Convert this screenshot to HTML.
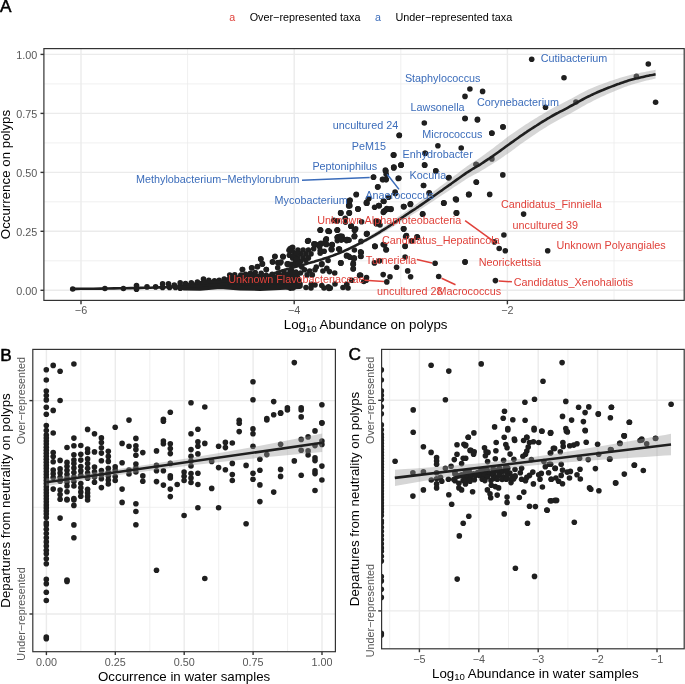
<!DOCTYPE html><html><head><meta charset="utf-8"><style>html,body{margin:0;padding:0;background:#fff;width:685px;height:684px;overflow:hidden}svg{display:block;will-change:transform}text{font-family:"Liberation Sans",sans-serif}</style></head><body>
<svg width="685" height="684" viewBox="0 0 685 684">
<rect width="685" height="684" fill="#fff"/>
<clipPath id="cA"><rect x="43.9" y="48.6" width="640.3" height="251.8"/></clipPath><g clip-path="url(#cA)"><line x1="187.6" y1="48.6" x2="187.6" y2="300.4" stroke="#EBEBEB" stroke-width="0.75"/><line x1="400.8" y1="48.6" x2="400.8" y2="300.4" stroke="#EBEBEB" stroke-width="0.75"/><line x1="614" y1="48.6" x2="614" y2="300.4" stroke="#EBEBEB" stroke-width="0.75"/><line x1="43.9" y1="260.8" x2="684.2" y2="260.8" stroke="#EBEBEB" stroke-width="0.75"/><line x1="43.9" y1="201.8" x2="684.2" y2="201.8" stroke="#EBEBEB" stroke-width="0.75"/><line x1="43.9" y1="142.9" x2="684.2" y2="142.9" stroke="#EBEBEB" stroke-width="0.75"/><line x1="43.9" y1="83.9" x2="684.2" y2="83.9" stroke="#EBEBEB" stroke-width="0.75"/><line x1="81" y1="48.6" x2="81" y2="300.4" stroke="#EBEBEB" stroke-width="1.4"/><line x1="294.2" y1="48.6" x2="294.2" y2="300.4" stroke="#EBEBEB" stroke-width="1.4"/><line x1="507.4" y1="48.6" x2="507.4" y2="300.4" stroke="#EBEBEB" stroke-width="1.4"/><line x1="43.9" y1="290.3" x2="684.2" y2="290.3" stroke="#EBEBEB" stroke-width="1.4"/><line x1="43.9" y1="231.3" x2="684.2" y2="231.3" stroke="#EBEBEB" stroke-width="1.4"/><line x1="43.9" y1="172.4" x2="684.2" y2="172.4" stroke="#EBEBEB" stroke-width="1.4"/><line x1="43.9" y1="113.4" x2="684.2" y2="113.4" stroke="#EBEBEB" stroke-width="1.4"/><line x1="43.9" y1="54.4" x2="684.2" y2="54.4" stroke="#EBEBEB" stroke-width="1.4"/></g>
<g clip-path="url(#cA)">
<g fill="#1F1F1F">
<circle cx="72.7" cy="289" r="2.8"/><circle cx="104.9" cy="288.5" r="2.8"/><circle cx="123.4" cy="288.5" r="2.8"/><circle cx="136.5" cy="285.5" r="2.8"/><circle cx="136.5" cy="289.2" r="2.8"/><circle cx="147" cy="286.9" r="2.8"/><circle cx="155.6" cy="286.9" r="2.8"/><circle cx="162.6" cy="283.9" r="2.8"/><circle cx="162.6" cy="287.4" r="2.8"/><circle cx="168.5" cy="283.9" r="2.8"/><circle cx="169.6" cy="287.4" r="2.8"/><circle cx="174.3" cy="285" r="2.8"/><circle cx="175.5" cy="287.4" r="2.8"/><circle cx="180.2" cy="282.7" r="2.8"/><circle cx="180.2" cy="285.6" r="2.8"/><circle cx="180.2" cy="288.3" r="2.8"/><circle cx="242.6" cy="269.6" r="2.8"/><circle cx="251.6" cy="267.7" r="2.8"/><circle cx="257.3" cy="266.8" r="2.8"/><circle cx="260.9" cy="259.2" r="2.8"/><circle cx="262.5" cy="263.9" r="2.8"/><circle cx="266.3" cy="269.6" r="2.8"/><circle cx="274.8" cy="256.8" r="2.8"/><circle cx="272.9" cy="262" r="2.8"/><circle cx="278.1" cy="262.5" r="2.8"/><circle cx="282.9" cy="256.3" r="2.8"/><circle cx="281" cy="262" r="2.8"/><circle cx="287.6" cy="264.4" r="2.8"/><circle cx="289" cy="250.2" r="2.8"/><circle cx="277.7" cy="267.7" r="2.8"/><circle cx="348.9" cy="204.4" r="2.8"/><circle cx="348.9" cy="201" r="2.8"/><circle cx="366.5" cy="202.2" r="2.8"/><circle cx="358.2" cy="209.1" r="2.8"/><circle cx="340.6" cy="212.9" r="2.8"/><circle cx="349.4" cy="212.9" r="2.8"/><circle cx="351.1" cy="226.3" r="2.8"/><circle cx="354.8" cy="230" r="2.8"/><circle cx="320.4" cy="230.3" r="2.8"/><circle cx="328.2" cy="231.1" r="2.8"/><circle cx="337.3" cy="230.3" r="2.8"/><circle cx="338.7" cy="236.5" r="2.8"/><circle cx="341.6" cy="238.7" r="2.8"/><circle cx="347.5" cy="239.8" r="2.8"/><circle cx="354.5" cy="235.8" r="2.8"/><circle cx="366.5" cy="233.9" r="2.8"/><circle cx="307.7" cy="241.2" r="2.8"/><circle cx="326.3" cy="239.5" r="2.8"/><circle cx="320.4" cy="243.9" r="2.8"/><circle cx="332.1" cy="244.6" r="2.8"/><circle cx="331.4" cy="249.7" r="2.8"/><circle cx="313.9" cy="243.9" r="2.8"/><circle cx="338.7" cy="249" r="2.8"/><circle cx="360.6" cy="251.9" r="2.8"/><circle cx="360.6" cy="256.3" r="2.8"/><circle cx="354.1" cy="257.7" r="2.8"/><circle cx="348.9" cy="256.3" r="2.8"/><circle cx="340.9" cy="262.9" r="2.8"/><circle cx="353.3" cy="264.3" r="2.8"/><circle cx="353.3" cy="268.7" r="2.8"/><circle cx="360.6" cy="275.3" r="2.8"/><circle cx="366.5" cy="277.5" r="2.8"/><circle cx="340.4" cy="236.3" r="2.8"/><circle cx="337.3" cy="237.3" r="2.8"/><circle cx="343.5" cy="239.3" r="2.8"/><circle cx="347.6" cy="239.8" r="2.8"/><circle cx="326.6" cy="244.4" r="2.8"/><circle cx="332.2" cy="245" r="2.8"/><circle cx="331.2" cy="249.1" r="2.8"/><circle cx="339.4" cy="249.1" r="2.8"/><circle cx="320.7" cy="243.9" r="2.8"/><circle cx="320.9" cy="251.1" r="2.8"/><circle cx="314.8" cy="243.9" r="2.8"/><circle cx="340.9" cy="262.9" r="2.8"/><circle cx="322" cy="263.9" r="2.8"/><circle cx="288.2" cy="263.9" r="2.8"/><circle cx="283.1" cy="256.7" r="2.8"/><circle cx="353.3" cy="258.5" r="2.8"/><circle cx="353.3" cy="263.1" r="2.8"/><circle cx="359.9" cy="275" r="2.8"/><circle cx="361.2" cy="252.6" r="2.8"/><circle cx="346.8" cy="255.3" r="2.8"/><circle cx="363.8" cy="281.5" r="2.8"/><circle cx="328.4" cy="286.8" r="2.8"/><circle cx="330.3" cy="288.1" r="2.8"/><circle cx="321.8" cy="285.5" r="2.8"/><circle cx="311.3" cy="284.2" r="2.8"/><circle cx="290.3" cy="288.1" r="2.8"/><circle cx="292.9" cy="287.5" r="2.8"/><circle cx="346.8" cy="284.2" r="2.8"/><circle cx="378.8" cy="205.6" r="2.8"/><circle cx="383.9" cy="201.5" r="2.8"/><circle cx="383.9" cy="211.4" r="2.8"/><circle cx="387.5" cy="209.1" r="2.8"/><circle cx="390.8" cy="209.5" r="2.8"/><circle cx="403.9" cy="206.6" r="2.8"/><circle cx="410.6" cy="204.1" r="2.8"/><circle cx="422.6" cy="214.2" r="2.8"/><circle cx="443.8" cy="202.9" r="2.8"/><circle cx="456.3" cy="200" r="2.8"/><circle cx="456.7" cy="212.9" r="2.8"/><circle cx="376.6" cy="223.4" r="2.8"/><circle cx="376" cy="221" r="2.8"/><circle cx="380" cy="225" r="2.8"/><circle cx="403.6" cy="228.8" r="2.8"/><circle cx="406.3" cy="235.8" r="2.8"/><circle cx="417.2" cy="237.3" r="2.8"/><circle cx="411.7" cy="240.9" r="2.8"/><circle cx="405.1" cy="246.5" r="2.8"/><circle cx="375.1" cy="246.5" r="2.8"/><circle cx="383.2" cy="244.6" r="2.8"/><circle cx="386.4" cy="249.7" r="2.8"/><circle cx="405.1" cy="257" r="2.8"/><circle cx="374.4" cy="262.9" r="2.8"/><circle cx="379.5" cy="260.7" r="2.8"/><circle cx="396.6" cy="267.3" r="2.8"/><circle cx="407.7" cy="270.9" r="2.8"/><circle cx="383.2" cy="274.6" r="2.8"/><circle cx="390" cy="276.8" r="2.8"/><circle cx="410.6" cy="276.8" r="2.8"/><circle cx="386.8" cy="281.9" r="2.8"/><circle cx="435.1" cy="263.2" r="2.8"/><circle cx="465" cy="262.1" r="2.8"/><circle cx="438.7" cy="276.5" r="2.8"/><circle cx="469.1" cy="194.4" r="2.8"/><circle cx="489.7" cy="194.4" r="2.8"/><circle cx="523.6" cy="214.1" r="2.8"/><circle cx="503.9" cy="235" r="2.8"/><circle cx="494.4" cy="241.9" r="2.8"/><circle cx="499.2" cy="248.5" r="2.8"/><circle cx="505.3" cy="250.7" r="2.8"/><circle cx="547.7" cy="250.7" r="2.8"/><circle cx="465.1" cy="261.9" r="2.8"/><circle cx="495.4" cy="280.6" r="2.8"/><circle cx="545.5" cy="107.3" r="2.8"/><circle cx="465.1" cy="118.3" r="2.8"/><circle cx="477.5" cy="119.4" r="2.8"/><circle cx="503.1" cy="127" r="2.8"/><circle cx="491.9" cy="133.3" r="2.8"/><circle cx="461.2" cy="148" r="2.8"/><circle cx="476.1" cy="164.3" r="2.8"/><circle cx="491.9" cy="158.9" r="2.8"/><circle cx="502.8" cy="174.9" r="2.8"/><circle cx="476.4" cy="182.2" r="2.8"/><circle cx="531.7" cy="59.2" r="2.8"/><circle cx="469.9" cy="89" r="2.8"/><circle cx="482.6" cy="91.4" r="2.8"/><circle cx="465" cy="96.4" r="2.8"/><circle cx="465" cy="118.7" r="2.8"/><circle cx="477.4" cy="120" r="2.8"/><circle cx="424.3" cy="123" r="2.8"/><circle cx="502.9" cy="126.9" r="2.8"/><circle cx="491.8" cy="133.1" r="2.8"/><circle cx="399.2" cy="135.4" r="2.8"/><circle cx="564" cy="77.7" r="2.8"/><circle cx="648.3" cy="64" r="2.8"/><circle cx="636.4" cy="76.3" r="2.8"/><circle cx="575.9" cy="102" r="2.8"/><circle cx="655.6" cy="102.2" r="2.8"/><circle cx="393.8" cy="154.7" r="2.8"/><circle cx="425.3" cy="153.2" r="2.8"/><circle cx="393.8" cy="167.9" r="2.8"/><circle cx="400.9" cy="165.2" r="2.8"/><circle cx="424.8" cy="165.2" r="2.8"/><circle cx="385.9" cy="171" r="2.8"/><circle cx="435.8" cy="171" r="2.8"/><circle cx="449" cy="177.6" r="2.8"/><circle cx="373.6" cy="177.1" r="2.8"/><circle cx="382.5" cy="179.4" r="2.8"/><circle cx="385.9" cy="179.4" r="2.8"/><circle cx="398.2" cy="178.4" r="2.8"/><circle cx="378" cy="186.8" r="2.8"/><circle cx="423.5" cy="185.5" r="2.8"/><circle cx="429.3" cy="193.4" r="2.8"/><circle cx="455.5" cy="199.1" r="2.8"/><circle cx="468.7" cy="194.7" r="2.8"/><circle cx="443.7" cy="203.3" r="2.8"/><circle cx="456.3" cy="213.1" r="2.8"/><circle cx="422.7" cy="213.8" r="2.8"/><circle cx="410.3" cy="204.4" r="2.8"/><circle cx="403.5" cy="206.5" r="2.8"/><circle cx="395.1" cy="192" r="2.8"/><circle cx="388.5" cy="197.3" r="2.8"/><circle cx="383.3" cy="201.2" r="2.8"/><circle cx="379.3" cy="205.7" r="2.8"/><circle cx="385.1" cy="210.4" r="2.8"/><circle cx="389.8" cy="209.1" r="2.8"/><circle cx="383.3" cy="212.5" r="2.8"/><circle cx="368.8" cy="198.6" r="2.8"/><circle cx="367" cy="203.3" r="2.8"/><circle cx="356.2" cy="194.7" r="2.8"/><circle cx="349.9" cy="200.4" r="2.8"/><circle cx="349.9" cy="205.7" r="2.8"/><circle cx="357.8" cy="209.1" r="2.8"/><circle cx="349.1" cy="213.1" r="2.8"/><circle cx="340.7" cy="213.1" r="2.8"/><circle cx="374.6" cy="207.3" r="2.8"/><circle cx="403.5" cy="228.8" r="2.8"/><circle cx="405.6" cy="236.7" r="2.8"/><circle cx="417.4" cy="237.2" r="2.8"/><circle cx="405.1" cy="245.9" r="2.8"/><circle cx="384.6" cy="245.1" r="2.8"/><circle cx="385.9" cy="249.8" r="2.8"/><circle cx="374.9" cy="246.4" r="2.8"/><circle cx="366.7" cy="234.1" r="2.8"/><circle cx="354.4" cy="236.7" r="2.8"/><circle cx="355.7" cy="228.8" r="2.8"/><circle cx="351" cy="226.2" r="2.8"/><circle cx="345.2" cy="218.3" r="2.8"/><circle cx="337.3" cy="220.9" r="2.8"/><circle cx="329.4" cy="231.5" r="2.8"/><circle cx="320.2" cy="230.1" r="2.8"/><circle cx="337.3" cy="230.1" r="2.8"/><circle cx="339.9" cy="236.7" r="2.8"/><circle cx="346.5" cy="240.6" r="2.8"/><circle cx="337.3" cy="240.6" r="2.8"/><circle cx="332" cy="244.6" r="2.8"/><circle cx="325.5" cy="240.6" r="2.8"/><circle cx="308.4" cy="240.6" r="2.8"/><circle cx="316.3" cy="244.6" r="2.8"/><circle cx="324.2" cy="251.2" r="2.8"/><circle cx="393.3" cy="155" r="2.8"/><circle cx="424.9" cy="153.3" r="2.8"/><circle cx="393.9" cy="167.1" r="2.8"/><circle cx="401.2" cy="164.9" r="2.8"/><circle cx="424.5" cy="164.9" r="2.8"/><circle cx="435.8" cy="170.7" r="2.8"/><circle cx="448.6" cy="178" r="2.8"/><circle cx="398.9" cy="178.3" r="2.8"/><circle cx="423.6" cy="185.5" r="2.8"/><circle cx="476.2" cy="164.5" r="2.8"/><circle cx="476.2" cy="182" r="2.8"/><circle cx="468.7" cy="194.3" r="2.8"/><circle cx="456.2" cy="199.3" r="2.8"/><circle cx="443.9" cy="203" r="2.8"/><circle cx="456.4" cy="212.9" r="2.8"/><circle cx="429.2" cy="192.8" r="2.8"/><circle cx="395.3" cy="193.4" r="2.8"/><circle cx="410.4" cy="203.9" r="2.8"/><circle cx="403.8" cy="206.8" r="2.8"/><circle cx="391.1" cy="208.9" r="2.8"/><circle cx="422.6" cy="214.1" r="2.8"/><circle cx="403.8" cy="228.9" r="2.8"/><circle cx="406.4" cy="235.5" r="2.8"/><circle cx="417" cy="236.8" r="2.8"/><circle cx="373.4" cy="177.2" r="2.8"/><circle cx="385.5" cy="171.1" r="2.8"/><circle cx="386.2" cy="174.3" r="2.8"/><circle cx="382.9" cy="179.6" r="2.8"/><circle cx="386.2" cy="179.6" r="2.8"/><circle cx="377.6" cy="187.1" r="2.8"/><circle cx="356.3" cy="194.3" r="2.8"/><circle cx="350" cy="200.3" r="2.8"/><circle cx="349.3" cy="203.9" r="2.8"/><circle cx="348.7" cy="205.9" r="2.8"/><circle cx="366.4" cy="203.3" r="2.8"/><circle cx="368.4" cy="198.7" r="2.8"/><circle cx="378.7" cy="205.5" r="2.8"/><circle cx="383.6" cy="201.3" r="2.8"/><circle cx="386.8" cy="208.6" r="2.8"/><circle cx="383.6" cy="211.6" r="2.8"/><circle cx="357.9" cy="208.9" r="2.8"/><circle cx="349.3" cy="212.9" r="2.8"/><circle cx="340.8" cy="212.9" r="2.8"/><circle cx="333.9" cy="220.4" r="2.8"/><circle cx="345.4" cy="222.1" r="2.8"/><circle cx="361.6" cy="221.7" r="2.8"/><circle cx="376.3" cy="223.7" r="2.8"/><circle cx="378.7" cy="221.7" r="2.8"/><circle cx="351.3" cy="226.1" r="2.8"/><circle cx="355" cy="230" r="2.8"/><circle cx="320.4" cy="230" r="2.8"/><circle cx="328.3" cy="231.3" r="2.8"/><circle cx="337.5" cy="230" r="2.8"/><circle cx="367.1" cy="233.6" r="2.8"/><circle cx="354.6" cy="236.2" r="2.8"/><circle cx="338.2" cy="236.8" r="2.8"/><circle cx="342.1" cy="236.2" r="2.8"/><circle cx="326.3" cy="238.8" r="2.8"/><circle cx="347.4" cy="239.5" r="2.8"/><circle cx="399.3" cy="135.3" r="2.8"/><circle cx="393.7" cy="155.2" r="2.8"/><circle cx="401" cy="165" r="2.8"/><circle cx="393.7" cy="167.4" r="2.8"/><circle cx="385.4" cy="170.1" r="2.8"/><circle cx="437.9" cy="145.8" r="2.8"/><circle cx="185.5" cy="283.6" r="2.8"/><circle cx="191.3" cy="282.7" r="2.8"/><circle cx="197.4" cy="282.1" r="2.8"/><circle cx="203.5" cy="279.1" r="2.8"/><circle cx="208.8" cy="280.4" r="2.8"/><circle cx="214.5" cy="280.9" r="2.8"/><circle cx="219.2" cy="280.3" r="2.8"/><circle cx="224.2" cy="279" r="2.8"/><circle cx="229.7" cy="275" r="2.8"/><circle cx="234.7" cy="274.9" r="2.8"/><circle cx="240.8" cy="275.1" r="2.8"/><circle cx="245.6" cy="274.3" r="2.8"/><circle cx="250.4" cy="273.4" r="2.8"/><circle cx="255.2" cy="272.6" r="2.8"/><circle cx="261.2" cy="273.4" r="2.8"/><circle cx="266.2" cy="275.3" r="2.8"/><circle cx="272.2" cy="274.4" r="2.8"/><circle cx="278.3" cy="273.5" r="2.8"/><circle cx="284" cy="271.9" r="2.8"/><circle cx="290.1" cy="271.4" r="2.8"/><circle cx="320.5" cy="230" r="2.8"/><circle cx="328.4" cy="230.9" r="2.8"/><circle cx="337.3" cy="230" r="2.8"/><circle cx="351.1" cy="226.3" r="2.8"/><circle cx="354.4" cy="230.3" r="2.8"/><circle cx="366.9" cy="233.5" r="2.8"/><circle cx="307.7" cy="241" r="2.8"/><circle cx="326.1" cy="239.5" r="2.8"/><circle cx="337.3" cy="237.5" r="2.8"/><circle cx="340.6" cy="236.2" r="2.8"/><circle cx="341.2" cy="240.1" r="2.8"/><circle cx="346.5" cy="239.5" r="2.8"/><circle cx="349.1" cy="240.1" r="2.8"/><circle cx="354.4" cy="236.2" r="2.8"/><circle cx="361" cy="241.4" r="2.8"/><circle cx="374.8" cy="246" r="2.8"/><circle cx="325.5" cy="244.1" r="2.8"/><circle cx="332" cy="244.7" r="2.8"/><circle cx="320.9" cy="243.4" r="2.8"/><circle cx="319.6" cy="246.7" r="2.8"/><circle cx="314.3" cy="244.7" r="2.8"/><circle cx="332" cy="249.3" r="2.8"/><circle cx="339.3" cy="249.3" r="2.8"/><circle cx="361" cy="252.6" r="2.8"/><circle cx="361" cy="256.5" r="2.8"/><circle cx="354.4" cy="250" r="2.8"/><circle cx="346.5" cy="255.9" r="2.8"/><circle cx="349.8" cy="257.2" r="2.8"/><circle cx="354.4" cy="258.5" r="2.8"/><circle cx="340.6" cy="263.1" r="2.8"/><circle cx="353.1" cy="264.4" r="2.8"/><circle cx="353.1" cy="269" r="2.8"/><circle cx="320.2" cy="250.6" r="2.8"/><circle cx="320.2" cy="253.3" r="2.8"/><circle cx="328.1" cy="260.5" r="2.8"/><circle cx="321.5" cy="264.4" r="2.8"/><circle cx="326.8" cy="268.4" r="2.8"/><circle cx="329.4" cy="271.6" r="2.8"/><circle cx="334.7" cy="273" r="2.8"/><circle cx="322.9" cy="271" r="2.8"/><circle cx="316.3" cy="267" r="2.8"/><circle cx="315" cy="269.7" r="2.8"/><circle cx="309.7" cy="271" r="2.8"/><circle cx="304.5" cy="269.7" r="2.8"/><circle cx="300.5" cy="273" r="2.8"/><circle cx="307.1" cy="274.9" r="2.8"/><circle cx="312.3" cy="274.9" r="2.8"/><circle cx="359.6" cy="275.6" r="2.8"/><circle cx="366.2" cy="280.2" r="2.8"/><circle cx="351.8" cy="280.2" r="2.8"/><circle cx="290" cy="248.7" r="2.8"/><circle cx="292.6" cy="247.3" r="2.8"/><circle cx="297.9" cy="250" r="2.8"/><circle cx="303.1" cy="250" r="2.8"/><circle cx="308.4" cy="250" r="2.8"/><circle cx="313.7" cy="248.7" r="2.8"/><circle cx="295.3" cy="253.9" r="2.8"/><circle cx="300.5" cy="253.9" r="2.8"/><circle cx="305.8" cy="253.9" r="2.8"/><circle cx="311" cy="253.9" r="2.8"/><circle cx="292.6" cy="257.9" r="2.8"/><circle cx="297.9" cy="257.9" r="2.8"/><circle cx="303.1" cy="257.9" r="2.8"/><circle cx="308.4" cy="257.9" r="2.8"/><circle cx="295.3" cy="261.8" r="2.8"/><circle cx="300.5" cy="261.8" r="2.8"/><circle cx="291.3" cy="264.4" r="2.8"/><circle cx="305.8" cy="260.5" r="2.8"/><circle cx="291.3" cy="269.7" r="2.8"/><circle cx="295.3" cy="273.6" r="2.8"/><circle cx="301.8" cy="267" r="2.8"/><circle cx="242.3" cy="269.5" r="2.8"/><circle cx="252" cy="268" r="2.8"/><circle cx="257.6" cy="266.5" r="2.8"/><circle cx="260.7" cy="258.8" r="2.8"/><circle cx="262.2" cy="263.9" r="2.8"/><circle cx="266.3" cy="269.5" r="2.8"/><circle cx="275" cy="256.2" r="2.8"/><circle cx="272.4" cy="261.9" r="2.8"/><circle cx="278" cy="262.9" r="2.8"/><circle cx="283.1" cy="256.8" r="2.8"/><circle cx="280.1" cy="262.9" r="2.8"/><circle cx="287.2" cy="263.9" r="2.8"/><circle cx="291.3" cy="248.1" r="2.8"/><circle cx="292.3" cy="251.1" r="2.8"/><circle cx="289.3" cy="255.2" r="2.8"/><circle cx="293.4" cy="256.2" r="2.8"/><circle cx="296.4" cy="253.2" r="2.8"/><circle cx="296.4" cy="259.3" r="2.8"/><circle cx="295.4" cy="264.4" r="2.8"/><circle cx="298.5" cy="263.4" r="2.8"/><circle cx="288" cy="287" r="2.8"/><circle cx="293" cy="288" r="2.8"/><circle cx="306" cy="287.5" r="2.8"/><circle cx="311" cy="288" r="2.8"/><circle cx="324" cy="288" r="2.8"/><circle cx="329" cy="288.5" r="2.8"/><circle cx="343" cy="287.5" r="2.8"/><circle cx="348" cy="288" r="2.8"/><circle cx="300" cy="284" r="2.8"/><circle cx="315" cy="285" r="2.8"/><circle cx="335" cy="284" r="2.8"/>
<path d="M184 286.8 L190 285.4 L198 284.7 L204 282.7 L212 282.7 L217 284 L225 281.8 L230 278.7 L240 277.8 L250 276.2 L260 276.7 L270 278.2 L280 276.2 L290 274.2 L296 272.2 L300 286.2 L280 287.2 L260 288.2 L240 287.8 L220 286.2 L200 288.1 L184 287.8 Z" stroke="#1F1F1F" stroke-width="5.5" stroke-linejoin="round"/>
</g>
<path d="M326.3 257.1 L328.4 256.4 L330.6 255.6 L332.8 254.7 L335.1 253.8 L337.3 252.8 L339.5 251.9 L341.7 250.9 L343.8 249.9 L345.9 248.9 L348.1 247.8 L350.2 246.7 L352.3 245.6 L354.4 244.5 L356.4 243.4 L358.3 242.4 L360 241.4 L361.6 240.5 L363 239.7 L364.3 239 L365.6 238.3 L366.8 237.6 L367.9 236.9 L369.1 236.1 L370.4 235.4 L371.7 234.6 L373 233.8 L374.3 233 L375.6 232.2 L376.8 231.4 L378.1 230.5 L379.4 229.7 L380.7 228.9 L382 228 L383.3 227.2 L384.5 226.3 L385.8 225.5 L387.1 224.6 L388.4 223.7 L389.6 222.8 L390.9 222 L392.2 221.1 L393.4 220.2 L394.7 219.3 L396 218.4 L397.3 217.5 L398.6 216.6 L399.8 215.7 L401.1 214.8 L402.4 213.9 L403.7 213 L405 212 L406.3 211.1 L407.6 210.2 L408.9 209.3 L410.1 208.4 L411.3 207.6 L412.4 206.8 L413.3 206.2 L414.1 205.7 L414.9 205.1 L415.8 204.5 L416.9 203.7 L418.3 202.7 L420 201.4 L422.2 199.8 L424.9 197.9 L427.9 195.7 L431 193.3 L434.2 191 L437.3 188.7 L440.1 186.6 L442.6 184.8 L444.7 183.2 L446.5 181.8 L448.1 180.6 L449.6 179.4 L451.1 178.3 L452.5 177.2 L453.9 176.1 L455.5 174.9 L457.2 173.7 L458.9 172.4 L460.6 171.1 L462.3 169.8 L464 168.5 L465.7 167.3 L467.3 166.1 L468.9 165 L470.4 164 L471.8 163.1 L473.1 162.2 L474.4 161.4 L475.7 160.5 L477 159.7 L478.5 158.7 L480 157.7 L481.7 156.5 L483.4 155.3 L485.2 154 L487.1 152.6 L489 151.2 L490.9 149.8 L492.8 148.4 L494.6 147 L496.4 145.6 L498.2 144.2 L500.1 142.8 L501.9 141.4 L503.7 140 L505.6 138.6 L507.4 137.1 L509.2 135.7 L511 134.4 L512.9 133.2 L514.7 131.9 L516.5 130.7 L518.3 129.4 L520.1 128.2 L522 127 L523.8 125.8 L525.6 124.6 L527.4 123.4 L529.3 122.3 L531.1 121.1 L532.9 120 L534.8 118.8 L536.6 117.7 L538.4 116.6 L540.2 115.5 L542 114.4 L543.9 113.3 L545.7 112.2 L547.5 111.1 L549.4 110.1 L551.2 109.1 L553 108 L554.8 107.1 L556.6 106.1 L558.4 105.2 L560.1 104.4 L561.9 103.5 L563.8 102.5 L565.7 101.6 L567.6 100.6 L569.6 99.5 L571.7 98.4 L573.9 97.2 L576.1 95.9 L578.3 94.7 L580.5 93.6 L582.6 92.4 L584.6 91.4 L586.5 90.5 L588.4 89.6 L590.3 88.8 L592.1 88 L593.8 87.3 L595.6 86.5 L597.4 85.8 L599.2 85.1 L601 84.4 L602.9 83.7 L604.7 83 L606.5 82.4 L608.3 81.7 L610.1 81.1 L612 80.5 L613.8 79.9 L615.6 79.3 L617.4 78.7 L619.3 78.1 L621.1 77.5 L622.9 76.9 L624.7 76.4 L626.6 75.9 L628.4 75.4 L630.2 74.9 L632.1 74.5 L634 74.1 L635.8 73.7 L637.7 73.3 L639.5 73 L641.3 72.6 L643 72.3 L644.8 71.9 L646.6 71.5 L648.4 71.2 L650.2 70.8 L651.9 70.5 L653.4 70.2 L654.6 70 L655.6 69.8 L655.6 78.6 L654.6 78.8 L653.4 79.1 L651.9 79.4 L650.2 79.8 L648.4 80.2 L646.6 80.6 L644.8 81.1 L643 81.5 L641.3 82 L639.5 82.5 L637.7 83 L635.8 83.5 L634 84 L632.1 84.6 L630.2 85.2 L628.4 85.8 L626.6 86.4 L624.7 87.1 L622.9 87.8 L621.1 88.5 L619.3 89.3 L617.4 90 L615.6 90.8 L613.8 91.5 L612 92.3 L610.1 93 L608.3 93.8 L606.5 94.6 L604.7 95.4 L602.9 96.2 L601 97.1 L599.2 97.9 L597.4 98.8 L595.6 99.7 L593.8 100.5 L592.1 101.4 L590.3 102.4 L588.4 103.3 L586.5 104.3 L584.6 105.4 L582.6 106.5 L580.5 107.7 L578.3 108.9 L576.1 110.2 L573.9 111.4 L571.7 112.7 L569.6 113.9 L567.6 115 L565.7 116.1 L563.8 117.1 L561.9 118.1 L560.1 119 L558.4 120 L556.6 120.9 L554.8 121.9 L553 123 L551.2 124 L549.4 125.1 L547.5 126.2 L545.7 127.4 L543.9 128.5 L542 129.7 L540.2 130.8 L538.4 132 L536.6 133.2 L534.8 134.4 L532.9 135.7 L531.1 136.9 L529.3 138.2 L527.4 139.4 L525.6 140.7 L523.8 142 L522 143.3 L520.1 144.6 L518.3 146 L516.5 147.3 L514.7 148.7 L512.9 150 L511 151.4 L509.2 152.7 L507.4 153.9 L505.6 155.1 L503.7 156.4 L501.9 157.7 L500.1 158.9 L498.2 160.2 L496.4 161.4 L494.6 162.6 L492.8 163.8 L490.9 164.9 L489 166.1 L487.1 167.3 L485.2 168.4 L483.4 169.5 L481.7 170.6 L480 171.5 L478.5 172.4 L477 173.2 L475.7 173.9 L474.4 174.6 L473.1 175.3 L471.8 176 L470.4 176.7 L468.9 177.6 L467.3 178.6 L465.7 179.6 L464 180.7 L462.3 181.8 L460.6 182.9 L458.9 184 L457.2 185.2 L455.5 186.2 L453.9 187.3 L452.5 188.3 L451.1 189.2 L449.6 190.2 L448.1 191.2 L446.5 192.3 L444.7 193.5 L442.6 194.8 L440.1 196.5 L437.3 198.3 L434.2 200.4 L431 202.5 L427.9 204.6 L424.9 206.5 L422.2 208.3 L420 209.8 L418.3 210.9 L416.9 211.8 L415.8 212.5 L414.9 213 L414.1 213.5 L413.3 214 L412.4 214.6 L411.3 215.2 L410.1 216 L408.9 216.8 L407.6 217.6 L406.3 218.4 L405 219.2 L403.7 220 L402.4 220.8 L401.1 221.6 L399.8 222.4 L398.6 223.2 L397.3 224 L396 224.8 L394.7 225.7 L393.4 226.5 L392.2 227.2 L390.9 228 L389.6 228.8 L388.4 229.6 L387.1 230.4 L385.8 231.1 L384.5 231.9 L383.3 232.6 L382 233.4 L380.7 234.1 L379.4 234.9 L378.1 235.6 L376.8 236.3 L375.6 237 L374.3 237.7 L373 238.4 L371.7 239.1 L370.4 239.8 L369.1 240.5 L367.9 241.1 L366.8 241.7 L365.6 242.3 L364.3 242.9 L363 243.6 L361.6 244.3 L360 245 L358.3 245.8 L356.4 246.7 L354.4 247.7 L352.3 248.7 L350.2 249.7 L348.1 250.6 L345.9 251.6 L343.8 252.5 L341.7 253.3 L339.5 254.1 L337.3 254.9 L335.1 255.7 L332.8 256.5 L330.6 257.2 L328.4 258 L326.3 258.7 Z" fill="#999999" fill-opacity="0.4"/>
<path d="M72 288.9 L75.8 288.9 L80.8 288.8 L86.8 288.7 L93.5 288.7 L100.5 288.6 L107.4 288.5 L114.1 288.4 L120 288.3 L125.4 288.2 L130.6 288.1 L135.6 288 L140.5 287.9 L145.4 287.8 L150.2 287.7 L155.1 287.5 L160 287.4 L165 287.2 L170 287.1 L175 286.9 L180 286.8 L185 286.6 L190 286.4 L195 286.1 L200 285.8 L205.1 285.5 L210.4 285.1 L215.7 284.7 L220.9 284.3 L226.1 283.8 L231.1 283.3 L235.7 282.8 L240 282.2 L243.9 281.6 L247.5 280.8 L250.9 280.1 L254.1 279.3 L257 278.5 L259.8 277.7 L262.5 276.9 L265 276.2 L267.4 275.5 L269.5 274.9 L271.4 274.2 L273.1 273.6 L274.8 273 L276.5 272.4 L278.2 271.8 L280 271.2 L281.9 270.6 L283.8 270.1 L285.6 269.5 L287.5 269 L289.4 268.5 L291.2 267.9 L293.1 267.4 L295 266.9 L296.9 266.4 L298.7 265.9 L300.6 265.4 L302.4 264.9 L304.3 264.4 L306.2 263.9 L308.1 263.3 L310 262.8 L312 262.2 L314 261.7 L316 261.1 L318 260.5 L320 259.9 L322.1 259.3 L324.2 258.6 L326.3 257.9 L328.4 257.2 L330.6 256.4 L332.8 255.6 L335.1 254.7 L337.3 253.9 L339.5 253 L341.7 252.1 L343.8 251.2 L345.9 250.2 L348.1 249.2 L350.2 248.2 L352.3 247.1 L354.4 246.1 L356.4 245.1 L358.3 244.1 L360 243.2 L361.6 242.4 L363 241.6 L364.3 240.9 L365.6 240.3 L366.8 239.6 L367.9 239 L369.1 238.3 L370.4 237.6 L371.7 236.9 L373 236.1 L374.3 235.4 L375.6 234.6 L376.8 233.8 L378.1 233.1 L379.4 232.3 L380.7 231.5 L382 230.7 L383.3 229.9 L384.5 229.1 L385.8 228.3 L387.1 227.5 L388.4 226.7 L389.6 225.8 L390.9 225 L392.2 224.2 L393.4 223.3 L394.7 222.5 L396 221.6 L397.3 220.8 L398.6 219.9 L399.8 219.1 L401.1 218.2 L402.4 217.3 L403.7 216.5 L405 215.6 L406.3 214.7 L407.6 213.9 L408.9 213 L410.1 212.2 L411.3 211.4 L412.4 210.7 L413.3 210.1 L414.1 209.6 L414.9 209.1 L415.8 208.5 L416.9 207.7 L418.3 206.8 L420 205.6 L422.2 204.1 L424.9 202.2 L427.9 200.1 L431 197.9 L434.2 195.7 L437.3 193.5 L440.1 191.5 L442.6 189.8 L444.7 188.3 L446.5 187 L448.1 185.9 L449.6 184.8 L451.1 183.8 L452.5 182.8 L453.9 181.7 L455.5 180.6 L457.2 179.4 L458.9 178.2 L460.6 177 L462.3 175.8 L464 174.6 L465.7 173.4 L467.3 172.3 L468.9 171.3 L470.4 170.4 L471.8 169.5 L473.1 168.7 L474.4 168 L475.7 167.2 L477 166.4 L478.5 165.6 L480 164.6 L481.7 163.5 L483.4 162.4 L485.2 161.2 L487.1 159.9 L489 158.7 L490.9 157.4 L492.8 156.1 L494.6 154.8 L496.4 153.5 L498.2 152.2 L500.1 150.9 L501.9 149.5 L503.7 148.2 L505.6 146.8 L507.4 145.5 L509.2 144.2 L511 142.9 L512.9 141.6 L514.7 140.3 L516.5 139 L518.3 137.7 L520.1 136.4 L522 135.2 L523.8 133.9 L525.6 132.7 L527.4 131.4 L529.3 130.2 L531.1 129 L532.9 127.8 L534.8 126.6 L536.6 125.5 L538.4 124.3 L540.2 123.2 L542 122 L543.9 120.9 L545.7 119.8 L547.5 118.7 L549.4 117.6 L551.2 116.5 L553 115.5 L554.8 114.5 L556.6 113.5 L558.4 112.6 L560.1 111.7 L561.9 110.8 L563.8 109.8 L565.7 108.8 L567.6 107.8 L569.6 106.7 L571.7 105.5 L573.9 104.3 L576.1 103.1 L578.3 101.8 L580.5 100.6 L582.6 99.5 L584.6 98.4 L586.5 97.4 L588.4 96.5 L590.3 95.6 L592.1 94.7 L593.8 93.9 L595.6 93.1 L597.4 92.3 L599.2 91.5 L601 90.7 L602.9 90 L604.7 89.2 L606.5 88.5 L608.3 87.8 L610.1 87.1 L612 86.4 L613.8 85.7 L615.6 85 L617.4 84.3 L619.3 83.7 L621.1 83 L622.9 82.4 L624.7 81.8 L626.6 81.2 L628.4 80.6 L630.2 80.1 L632.1 79.6 L634 79.1 L635.8 78.6 L637.7 78.2 L639.5 77.7 L641.3 77.3 L643 76.9 L644.8 76.5 L646.6 76.1 L648.4 75.7 L650.2 75.3 L651.9 75 L653.4 74.7 L654.6 74.4 L655.6 74.2" fill="none" stroke="#1F1F1F" stroke-width="2.6" stroke-linejoin="round" stroke-linecap="butt"/>
</g>
<line x1="416.8" y1="259.6" x2="432.1" y2="262.9" stroke="#E0413A" stroke-width="1.5"/>
<line x1="441.6" y1="278.2" x2="455.5" y2="284.8" stroke="#E0413A" stroke-width="1.5"/>
<line x1="364.5" y1="280.2" x2="384" y2="281.5" stroke="#E0413A" stroke-width="1.5"/>
<line x1="465.1" y1="220.7" x2="494.4" y2="241.9" stroke="#E0413A" stroke-width="1.5"/>
<line x1="498.7" y1="280.9" x2="511.9" y2="281.8" stroke="#E0413A" stroke-width="1.5"/>
<line x1="302" y1="180.3" x2="369.7" y2="177.4" stroke="#3B6CBA" stroke-width="1.5"/>
<line x1="387.2" y1="174.2" x2="399" y2="189.4" stroke="#3B6CBA" stroke-width="1.5"/>
<text x="540.7" y="62.2"  font-size="10.8" fill="#3B6CBA">Cutibacterium</text>
<text x="404.9" y="82.2"  font-size="10.8" fill="#3B6CBA">Staphylococcus</text>
<text x="476.9" y="106.3"  font-size="10.8" fill="#3B6CBA">Corynebacterium</text>
<text x="410.6" y="111.2"  font-size="10.8" fill="#3B6CBA">Lawsonella</text>
<text x="332.8" y="129.2"  font-size="10.8" fill="#3B6CBA">uncultured 24</text>
<text x="422.3" y="138.1"  font-size="10.8" fill="#3B6CBA">Micrococcus</text>
<text x="351.8" y="149.6"  font-size="10.8" fill="#3B6CBA">PeM15</text>
<text x="402.5" y="158"  font-size="10.8" fill="#3B6CBA">Enhydrobacter</text>
<text x="312.4" y="169.8"  font-size="10.8" fill="#3B6CBA">Peptoniphilus</text>
<text x="409.6" y="178.9"  font-size="10.8" fill="#3B6CBA">Kocuria</text>
<text x="136" y="182.9"  font-size="10.8" fill="#3B6CBA">Methylobacterium&#8722;Methylorubrum</text>
<text x="274.6" y="203.9"  font-size="10.8" fill="#3B6CBA">Mycobacterium</text>
<text x="365.4" y="199.3"  font-size="10.8" fill="#3B6CBA">Anaerococcus</text>
<text x="317.2" y="224.3"  font-size="10.8" fill="#E0413A">Unknown Alphaproteobacteria</text>
<text x="500.9" y="207.6"  font-size="10.8" fill="#E0413A">Candidatus_Finniella</text>
<text x="512.6" y="229.4"  font-size="10.8" fill="#E0413A">uncultured 39</text>
<text x="382" y="244.3"  font-size="10.8" fill="#E0413A">Candidatus_Hepatincola</text>
<text x="556.5" y="249.2"  font-size="10.8" fill="#E0413A">Unknown Polyangiales</text>
<text x="478.7" y="266"  font-size="10.8" fill="#E0413A">Neorickettsia</text>
<text x="365.7" y="264"  font-size="10.8" fill="#E0413A">Turneriella</text>
<text x="513.8" y="286"  font-size="10.8" fill="#E0413A">Candidatus_Xenohaliotis</text>
<text x="228.2" y="283.3"  font-size="10.8" fill="#E0413A">Unknown Flavobacteriaceae</text>
<text x="377" y="295"  font-size="10.8" fill="#E0413A">uncultured 28</text>
<text x="437.5" y="295"  font-size="10.8" fill="#E0413A">Macrococcus</text>
<rect x="43.9" y="48.6" width="640.3" height="251.8" fill="none" stroke="#333333" stroke-width="1.2"/>
<line x1="40.5" y1="290.3" x2="43.9" y2="290.3" stroke="#333333" stroke-width="1.4"/><text x="37.2" y="294.7"  font-size="10.8" fill="#575757" text-anchor="end">0.00</text><line x1="40.5" y1="231.3" x2="43.9" y2="231.3" stroke="#333333" stroke-width="1.4"/><text x="37.2" y="235.7"  font-size="10.8" fill="#575757" text-anchor="end">0.25</text><line x1="40.5" y1="172.4" x2="43.9" y2="172.4" stroke="#333333" stroke-width="1.4"/><text x="37.2" y="176.8"  font-size="10.8" fill="#575757" text-anchor="end">0.50</text><line x1="40.5" y1="113.4" x2="43.9" y2="113.4" stroke="#333333" stroke-width="1.4"/><text x="37.2" y="117.8"  font-size="10.8" fill="#575757" text-anchor="end">0.75</text><line x1="40.5" y1="54.4" x2="43.9" y2="54.4" stroke="#333333" stroke-width="1.4"/><text x="37.2" y="58.8"  font-size="10.8" fill="#575757" text-anchor="end">1.00</text><line x1="81" y1="300.4" x2="81" y2="304.3" stroke="#333333" stroke-width="1.4"/><text x="81" y="314.1"  font-size="10.8" fill="#575757" text-anchor="middle">&#8722;6</text><line x1="294.2" y1="300.4" x2="294.2" y2="304.3" stroke="#333333" stroke-width="1.4"/><text x="294.2" y="314.1"  font-size="10.8" fill="#575757" text-anchor="middle">&#8722;4</text><line x1="507.4" y1="300.4" x2="507.4" y2="304.3" stroke="#333333" stroke-width="1.4"/><text x="507.4" y="314.1"  font-size="10.8" fill="#575757" text-anchor="middle">&#8722;2</text>
<text x="365.6" y="329.4"  font-size="13.3" fill="#000" text-anchor="middle">Log<tspan font-size="9.6" dy="2.2">10</tspan><tspan dy="-2.2"> Abundance on polyps</tspan></text>
<text transform="translate(9.9 174.5) rotate(-90)"  font-size="13.3" fill="#000" text-anchor="middle">Occurrence on polyps</text>
<text x="0" y="11.8"  font-size="17.2" fill="#000" stroke="#000" stroke-width="0.5">A</text>
<text x="229.2" y="21.4"  font-size="10.7" fill="#E0413A">a</text>
<text x="249.7" y="21.4"  font-size="10.8" fill="#000">Over&#8722;represented taxa</text>
<text x="375.1" y="21.4"  font-size="10.7" fill="#3B6CBA">a</text>
<text x="395.5" y="21.4"  font-size="10.8" fill="#000">Under&#8722;represented taxa</text>
<clipPath id="cB"><rect x="32.8" y="349.4" width="302.6" height="302.3"/></clipPath><g clip-path="url(#cB)"><line x1="80.8" y1="349.4" x2="80.8" y2="651.7" stroke="#EBEBEB" stroke-width="0.75"/><line x1="149.8" y1="349.4" x2="149.8" y2="651.7" stroke="#EBEBEB" stroke-width="0.75"/><line x1="218.7" y1="349.4" x2="218.7" y2="651.7" stroke="#EBEBEB" stroke-width="0.75"/><line x1="287.6" y1="349.4" x2="287.6" y2="651.7" stroke="#EBEBEB" stroke-width="0.75"/><line x1="32.8" y1="507.3" x2="335.4" y2="507.3" stroke="#EBEBEB" stroke-width="0.75"/><line x1="46.4" y1="349.4" x2="46.4" y2="651.7" stroke="#EBEBEB" stroke-width="1.4"/><line x1="115.3" y1="349.4" x2="115.3" y2="651.7" stroke="#EBEBEB" stroke-width="1.4"/><line x1="184.2" y1="349.4" x2="184.2" y2="651.7" stroke="#EBEBEB" stroke-width="1.4"/><line x1="253.1" y1="349.4" x2="253.1" y2="651.7" stroke="#EBEBEB" stroke-width="1.4"/><line x1="322" y1="349.4" x2="322" y2="651.7" stroke="#EBEBEB" stroke-width="1.4"/><line x1="32.8" y1="400.6" x2="335.4" y2="400.6" stroke="#EBEBEB" stroke-width="1.4"/><line x1="32.8" y1="614" x2="335.4" y2="614" stroke="#EBEBEB" stroke-width="1.4"/></g>
<g clip-path="url(#cB)"><g fill="#1F1F1F">
<circle cx="46.3" cy="369.8" r="2.8"/><circle cx="46.3" cy="380" r="2.8"/><circle cx="46.3" cy="407.2" r="2.8"/><circle cx="46.3" cy="414.3" r="2.8"/><circle cx="46.3" cy="425.6" r="2.8"/><circle cx="46.3" cy="430.5" r="2.8"/><circle cx="46.3" cy="579.4" r="2.8"/><circle cx="46.3" cy="583.8" r="2.8"/><circle cx="46.3" cy="592.3" r="2.8"/><circle cx="46.3" cy="600.5" r="2.8"/><circle cx="53.2" cy="365.4" r="2.8"/><circle cx="53.2" cy="410.4" r="2.8"/><circle cx="53.2" cy="433" r="2.8"/><circle cx="53.2" cy="461.8" r="2.8"/><circle cx="53.2" cy="489.1" r="2.8"/><circle cx="60.1" cy="371.2" r="2.8"/><circle cx="60.1" cy="400.5" r="2.8"/><circle cx="60.1" cy="460.4" r="2.8"/><circle cx="60.1" cy="518.1" r="2.8"/><circle cx="67" cy="447.5" r="2.8"/><circle cx="67" cy="491.7" r="2.8"/><circle cx="73.9" cy="364" r="2.8"/><circle cx="73.9" cy="438.1" r="2.8"/><circle cx="73.9" cy="445.8" r="2.8"/><circle cx="73.9" cy="505.4" r="2.8"/><circle cx="73.9" cy="524.9" r="2.8"/><circle cx="73.9" cy="537.7" r="2.8"/><circle cx="80.8" cy="445.5" r="2.8"/><circle cx="87.6" cy="429.4" r="2.8"/><circle cx="94.5" cy="433.8" r="2.8"/><circle cx="94.5" cy="451.9" r="2.8"/><circle cx="94.5" cy="467.1" r="2.8"/><circle cx="101.4" cy="460.7" r="2.8"/><circle cx="101.4" cy="487.6" r="2.8"/><circle cx="115.2" cy="427.2" r="2.8"/><circle cx="122.1" cy="443.4" r="2.8"/><circle cx="122.1" cy="462.8" r="2.8"/><circle cx="122.1" cy="489.1" r="2.8"/><circle cx="122.1" cy="502.4" r="2.8"/><circle cx="129" cy="420.1" r="2.8"/><circle cx="129" cy="446.3" r="2.8"/><circle cx="135.9" cy="438.4" r="2.8"/><circle cx="135.9" cy="455.3" r="2.8"/><circle cx="135.9" cy="503.8" r="2.8"/><circle cx="135.9" cy="511.5" r="2.8"/><circle cx="135.9" cy="524.7" r="2.8"/><circle cx="142.8" cy="452.6" r="2.8"/><circle cx="156.5" cy="450.9" r="2.8"/><circle cx="156.5" cy="481.6" r="2.8"/><circle cx="156.5" cy="570.3" r="2.8"/><circle cx="163.4" cy="470.7" r="2.8"/><circle cx="163.4" cy="485.1" r="2.8"/><circle cx="170.3" cy="412.2" r="2.8"/><circle cx="170.3" cy="463.4" r="2.8"/><circle cx="170.3" cy="489.1" r="2.8"/><circle cx="170.3" cy="496.6" r="2.8"/><circle cx="177.2" cy="484.5" r="2.8"/><circle cx="184.1" cy="515.5" r="2.8"/><circle cx="191" cy="402.7" r="2.8"/><circle cx="191" cy="433.8" r="2.8"/><circle cx="191" cy="449.6" r="2.8"/><circle cx="197.9" cy="429.2" r="2.8"/><circle cx="197.9" cy="453.9" r="2.8"/><circle cx="197.9" cy="473.3" r="2.8"/><circle cx="197.9" cy="484.5" r="2.8"/><circle cx="197.9" cy="507.7" r="2.8"/><circle cx="204.8" cy="578.5" r="2.8"/><circle cx="204.8" cy="407" r="2.8"/><circle cx="204.8" cy="443.4" r="2.8"/><circle cx="211.7" cy="461.4" r="2.8"/><circle cx="211.7" cy="488.4" r="2.8"/><circle cx="218.6" cy="446.3" r="2.8"/><circle cx="218.6" cy="467.6" r="2.8"/><circle cx="218.6" cy="507.7" r="2.8"/><circle cx="225.4" cy="469.7" r="2.8"/><circle cx="232.3" cy="443" r="2.8"/><circle cx="232.3" cy="463.4" r="2.8"/><circle cx="239.2" cy="431.6" r="2.8"/><circle cx="246.1" cy="465.4" r="2.8"/><circle cx="246.1" cy="523.8" r="2.8"/><circle cx="253" cy="381.8" r="2.8"/><circle cx="253" cy="399.8" r="2.8"/><circle cx="253" cy="446.3" r="2.8"/><circle cx="253" cy="473.3" r="2.8"/><circle cx="253" cy="479.2" r="2.8"/><circle cx="259.9" cy="459.2" r="2.8"/><circle cx="259.9" cy="470.3" r="2.8"/><circle cx="259.9" cy="484.9" r="2.8"/><circle cx="259.9" cy="501.6" r="2.8"/><circle cx="266.8" cy="454.6" r="2.8"/><circle cx="273.7" cy="401.6" r="2.8"/><circle cx="273.7" cy="414.7" r="2.8"/><circle cx="273.7" cy="492.1" r="2.8"/><circle cx="280.6" cy="444.2" r="2.8"/><circle cx="280.6" cy="469.4" r="2.8"/><circle cx="280.6" cy="476.4" r="2.8"/><circle cx="294.3" cy="362.6" r="2.8"/><circle cx="294.3" cy="460.9" r="2.8"/><circle cx="301.2" cy="416.9" r="2.8"/><circle cx="301.2" cy="439.4" r="2.8"/><circle cx="301.2" cy="450.2" r="2.8"/><circle cx="301.2" cy="475.3" r="2.8"/><circle cx="308.1" cy="436.9" r="2.8"/><circle cx="315" cy="430.9" r="2.8"/><circle cx="315" cy="490.5" r="2.8"/><circle cx="315" cy="445.6" r="2.8"/><circle cx="321.9" cy="404.8" r="2.8"/><circle cx="321.9" cy="466.1" r="2.8"/><circle cx="321.9" cy="480" r="2.8"/><circle cx="46.3" cy="391.1" r="2.8"/><circle cx="46.3" cy="395.5" r="2.8"/><circle cx="46.3" cy="399.9" r="2.8"/><circle cx="46.3" cy="435" r="2.8"/><circle cx="46.3" cy="438" r="2.8"/><circle cx="46.3" cy="441.1" r="2.8"/><circle cx="46.3" cy="444.1" r="2.8"/><circle cx="46.3" cy="447.2" r="2.8"/><circle cx="46.3" cy="450.2" r="2.8"/><circle cx="46.3" cy="453.2" r="2.8"/><circle cx="46.3" cy="456.3" r="2.8"/><circle cx="46.3" cy="459.3" r="2.8"/><circle cx="46.3" cy="462.3" r="2.8"/><circle cx="46.3" cy="465.4" r="2.8"/><circle cx="46.3" cy="468.4" r="2.8"/><circle cx="46.3" cy="471.5" r="2.8"/><circle cx="46.3" cy="474.5" r="2.8"/><circle cx="46.3" cy="477.5" r="2.8"/><circle cx="46.3" cy="480.6" r="2.8"/><circle cx="46.3" cy="483.6" r="2.8"/><circle cx="46.3" cy="486.7" r="2.8"/><circle cx="46.3" cy="489.7" r="2.8"/><circle cx="46.3" cy="492.7" r="2.8"/><circle cx="46.3" cy="495.8" r="2.8"/><circle cx="46.3" cy="498.8" r="2.8"/><circle cx="46.3" cy="501.8" r="2.8"/><circle cx="46.3" cy="504.9" r="2.8"/><circle cx="46.3" cy="507.9" r="2.8"/><circle cx="46.3" cy="511" r="2.8"/><circle cx="46.3" cy="514" r="2.8"/><circle cx="46.3" cy="517.5" r="2.8"/><circle cx="46.3" cy="522.8" r="2.8"/><circle cx="46.3" cy="525.1" r="2.8"/><circle cx="46.3" cy="529.3" r="2.8"/><circle cx="46.3" cy="533.5" r="2.8"/><circle cx="46.3" cy="537.7" r="2.8"/><circle cx="46.3" cy="541.9" r="2.8"/><circle cx="46.3" cy="546.1" r="2.8"/><circle cx="46.3" cy="550.3" r="2.8"/><circle cx="46.3" cy="553.8" r="2.8"/><circle cx="46.3" cy="558.8" r="2.8"/><circle cx="46.3" cy="563.7" r="2.8"/><circle cx="46.3" cy="637" r="2.8"/><circle cx="46.3" cy="638.7" r="2.8"/><circle cx="53.2" cy="452.5" r="2.8"/><circle cx="53.2" cy="456.6" r="2.8"/><circle cx="53.2" cy="470" r="2.8"/><circle cx="53.2" cy="473.8" r="2.8"/><circle cx="53.2" cy="477.6" r="2.8"/><circle cx="60.1" cy="468.9" r="2.8"/><circle cx="60.1" cy="473" r="2.8"/><circle cx="60.1" cy="477.2" r="2.8"/><circle cx="60.1" cy="481.3" r="2.8"/><circle cx="60.1" cy="490" r="2.8"/><circle cx="60.1" cy="494.6" r="2.8"/><circle cx="60.1" cy="499.3" r="2.8"/><circle cx="67" cy="462.4" r="2.8"/><circle cx="67" cy="466.3" r="2.8"/><circle cx="67" cy="470.3" r="2.8"/><circle cx="67" cy="474.2" r="2.8"/><circle cx="67" cy="478.1" r="2.8"/><circle cx="67" cy="482.1" r="2.8"/><circle cx="67" cy="486" r="2.8"/><circle cx="67" cy="499.3" r="2.8"/><circle cx="67" cy="500" r="2.8"/><circle cx="67" cy="580" r="2.8"/><circle cx="67" cy="581.4" r="2.8"/><circle cx="73.9" cy="454.8" r="2.8"/><circle cx="73.9" cy="460.1" r="2.8"/><circle cx="73.9" cy="463.6" r="2.8"/><circle cx="73.9" cy="468.1" r="2.8"/><circle cx="73.9" cy="472.6" r="2.8"/><circle cx="73.9" cy="477" r="2.8"/><circle cx="73.9" cy="481.5" r="2.8"/><circle cx="73.9" cy="486" r="2.8"/><circle cx="73.9" cy="498.5" r="2.8"/><circle cx="73.9" cy="500" r="2.8"/><circle cx="80.8" cy="454.2" r="2.8"/><circle cx="80.8" cy="460.1" r="2.8"/><circle cx="80.8" cy="466.5" r="2.8"/><circle cx="80.8" cy="470.9" r="2.8"/><circle cx="80.8" cy="475.3" r="2.8"/><circle cx="80.8" cy="483.5" r="2.8"/><circle cx="80.8" cy="487.8" r="2.8"/><circle cx="80.8" cy="492" r="2.8"/><circle cx="80.8" cy="496.3" r="2.8"/><circle cx="87.6" cy="449" r="2.8"/><circle cx="87.6" cy="452.5" r="2.8"/><circle cx="87.6" cy="458.9" r="2.8"/><circle cx="87.6" cy="463.6" r="2.8"/><circle cx="87.6" cy="468.3" r="2.8"/><circle cx="87.6" cy="473" r="2.8"/><circle cx="87.6" cy="478.3" r="2.8"/><circle cx="87.6" cy="489.3" r="2.8"/><circle cx="87.6" cy="492.9" r="2.8"/><circle cx="87.6" cy="496.4" r="2.8"/><circle cx="87.6" cy="500" r="2.8"/><circle cx="94.5" cy="471.8" r="2.8"/><circle cx="94.5" cy="477.1" r="2.8"/><circle cx="94.5" cy="482.3" r="2.8"/><circle cx="101.4" cy="437.9" r="2.8"/><circle cx="101.4" cy="442.5" r="2.8"/><circle cx="101.4" cy="447.8" r="2.8"/><circle cx="101.4" cy="453.1" r="2.8"/><circle cx="101.4" cy="470.6" r="2.8"/><circle cx="101.4" cy="474.7" r="2.8"/><circle cx="101.4" cy="478.8" r="2.8"/><circle cx="108.3" cy="451.3" r="2.8"/><circle cx="108.3" cy="456.4" r="2.8"/><circle cx="108.3" cy="461.4" r="2.8"/><circle cx="108.3" cy="468.3" r="2.8"/><circle cx="108.3" cy="472.2" r="2.8"/><circle cx="108.3" cy="476.1" r="2.8"/><circle cx="108.3" cy="480.1" r="2.8"/><circle cx="108.3" cy="484" r="2.8"/><circle cx="115.2" cy="466.7" r="2.8"/><circle cx="115.2" cy="470" r="2.8"/><circle cx="115.2" cy="476.6" r="2.8"/><circle cx="115.2" cy="480.5" r="2.8"/><circle cx="129" cy="470" r="2.8"/><circle cx="129" cy="474" r="2.8"/><circle cx="135.9" cy="445.7" r="2.8"/><circle cx="135.9" cy="449.6" r="2.8"/><circle cx="135.9" cy="464.1" r="2.8"/><circle cx="135.9" cy="468.1" r="2.8"/><circle cx="135.9" cy="472" r="2.8"/><circle cx="142.8" cy="475.9" r="2.8"/><circle cx="142.8" cy="481.2" r="2.8"/><circle cx="156.5" cy="465.4" r="2.8"/><circle cx="156.5" cy="470.7" r="2.8"/><circle cx="163.4" cy="419.2" r="2.8"/><circle cx="163.4" cy="421.3" r="2.8"/><circle cx="163.4" cy="441" r="2.8"/><circle cx="163.4" cy="443.7" r="2.8"/><circle cx="170.3" cy="443.7" r="2.8"/><circle cx="170.3" cy="448.6" r="2.8"/><circle cx="170.3" cy="453.6" r="2.8"/><circle cx="170.3" cy="475.9" r="2.8"/><circle cx="170.3" cy="477.9" r="2.8"/><circle cx="184.1" cy="472" r="2.8"/><circle cx="184.1" cy="476.2" r="2.8"/><circle cx="184.1" cy="480.5" r="2.8"/><circle cx="191" cy="456.2" r="2.8"/><circle cx="191" cy="461.1" r="2.8"/><circle cx="191" cy="466" r="2.8"/><circle cx="191" cy="473.5" r="2.8"/><circle cx="191" cy="478" r="2.8"/><circle cx="191" cy="482.5" r="2.8"/><circle cx="197.9" cy="441.7" r="2.8"/><circle cx="197.9" cy="446.3" r="2.8"/><circle cx="225.4" cy="442.4" r="2.8"/><circle cx="225.4" cy="447.6" r="2.8"/><circle cx="232.3" cy="474.6" r="2.8"/><circle cx="232.3" cy="480.5" r="2.8"/><circle cx="239.2" cy="420.2" r="2.8"/><circle cx="239.2" cy="423.3" r="2.8"/><circle cx="253" cy="428.9" r="2.8"/><circle cx="253" cy="433.8" r="2.8"/><circle cx="266.8" cy="418.5" r="2.8"/><circle cx="266.8" cy="420" r="2.8"/><circle cx="280.6" cy="412.9" r="2.8"/><circle cx="280.6" cy="413.3" r="2.8"/><circle cx="287.4" cy="407.7" r="2.8"/><circle cx="287.4" cy="410" r="2.8"/><circle cx="301.2" cy="407.7" r="2.8"/><circle cx="301.2" cy="410" r="2.8"/><circle cx="308.1" cy="450.9" r="2.8"/><circle cx="308.1" cy="455" r="2.8"/><circle cx="315" cy="457.8" r="2.8"/><circle cx="315" cy="460.6" r="2.8"/><circle cx="315" cy="470.9" r="2.8"/><circle cx="315" cy="473.6" r="2.8"/><circle cx="321.9" cy="422.7" r="2.8"/><circle cx="321.9" cy="423.1" r="2.8"/><circle cx="321.9" cy="441.1" r="2.8"/><circle cx="321.9" cy="444.4" r="2.8"/>
</g>
<path d="M46.3 478.5 L80 474.3 L110 470.2 L150 464.3 L188 458.2 L225 451.9 L260 445.7 L300 438 L322.2 433.5 L322.2 452.1 L300 454 L260 457.7 L225 461.5 L188 465.8 L150 470.7 L110 476.2 L80 480.7 L46.3 486.1 Z" fill="#999999" fill-opacity="0.4"/>
<path d="M46.3 482.3 L322.2 442.8" fill="none" stroke="#1F1F1F" stroke-width="2.6"/>
</g>
<rect x="32.8" y="349.4" width="302.6" height="302.3" fill="none" stroke="#333333" stroke-width="1.2"/>
<line x1="29.4" y1="400.6" x2="32.8" y2="400.6" stroke="#333333" stroke-width="1.4"/><line x1="29.4" y1="614" x2="32.8" y2="614" stroke="#333333" stroke-width="1.4"/><line x1="46.4" y1="651.7" x2="46.4" y2="655.1" stroke="#333333" stroke-width="1.4"/><text x="46.4" y="665.9"  font-size="10.8" fill="#575757" text-anchor="middle">0.00</text><line x1="115.3" y1="651.7" x2="115.3" y2="655.1" stroke="#333333" stroke-width="1.4"/><text x="115.3" y="665.9"  font-size="10.8" fill="#575757" text-anchor="middle">0.25</text><line x1="184.2" y1="651.7" x2="184.2" y2="655.1" stroke="#333333" stroke-width="1.4"/><text x="184.2" y="665.9"  font-size="10.8" fill="#575757" text-anchor="middle">0.50</text><line x1="253.1" y1="651.7" x2="253.1" y2="655.1" stroke="#333333" stroke-width="1.4"/><text x="253.1" y="665.9"  font-size="10.8" fill="#575757" text-anchor="middle">0.75</text><line x1="322" y1="651.7" x2="322" y2="655.1" stroke="#333333" stroke-width="1.4"/><text x="322" y="665.9"  font-size="10.8" fill="#575757" text-anchor="middle">1.00</text>
<text transform="translate(25 400.6) rotate(-90)"  font-size="10.8" fill="#575757" text-anchor="middle">Over&#8722;represented</text>
<text transform="translate(25 614) rotate(-90)"  font-size="10.8" fill="#575757" text-anchor="middle">Under&#8722;represented</text>
<text x="184.1" y="680.8"  font-size="13.3" fill="#000" text-anchor="middle">Occurrence in water samples</text>
<text transform="translate(10.4 500.5) rotate(-90)"  font-size="13.3" fill="#000" text-anchor="middle">Departures from neutrality on polyps</text>
<text x="0.3" y="360.5"  font-size="17.2" fill="#000" stroke="#000" stroke-width="0.5">B</text>
<clipPath id="cC"><rect x="381.6" y="349.4" width="302.6" height="299.4"/></clipPath><g clip-path="url(#cC)"><line x1="389.7" y1="349.4" x2="389.7" y2="648.8" stroke="#EBEBEB" stroke-width="0.75"/><line x1="449.1" y1="349.4" x2="449.1" y2="648.8" stroke="#EBEBEB" stroke-width="0.75"/><line x1="508.5" y1="349.4" x2="508.5" y2="648.8" stroke="#EBEBEB" stroke-width="0.75"/><line x1="567.9" y1="349.4" x2="567.9" y2="648.8" stroke="#EBEBEB" stroke-width="0.75"/><line x1="627.3" y1="349.4" x2="627.3" y2="648.8" stroke="#EBEBEB" stroke-width="0.75"/><line x1="686.7" y1="349.4" x2="686.7" y2="648.8" stroke="#EBEBEB" stroke-width="0.75"/><line x1="381.6" y1="505.6" x2="684.2" y2="505.6" stroke="#EBEBEB" stroke-width="0.75"/><line x1="419.4" y1="349.4" x2="419.4" y2="648.8" stroke="#EBEBEB" stroke-width="1.4"/><line x1="478.8" y1="349.4" x2="478.8" y2="648.8" stroke="#EBEBEB" stroke-width="1.4"/><line x1="538.2" y1="349.4" x2="538.2" y2="648.8" stroke="#EBEBEB" stroke-width="1.4"/><line x1="597.6" y1="349.4" x2="597.6" y2="648.8" stroke="#EBEBEB" stroke-width="1.4"/><line x1="657" y1="349.4" x2="657" y2="648.8" stroke="#EBEBEB" stroke-width="1.4"/><line x1="381.6" y1="400.3" x2="684.2" y2="400.3" stroke="#EBEBEB" stroke-width="1.4"/><line x1="381.6" y1="610.9" x2="684.2" y2="610.9" stroke="#EBEBEB" stroke-width="1.4"/></g>
<g clip-path="url(#cC)"><g fill="#1F1F1F">
<circle cx="431.1" cy="365.2" r="2.8"/><circle cx="448.8" cy="371.1" r="2.8"/><circle cx="445.4" cy="399.7" r="2.8"/><circle cx="413.2" cy="409.9" r="2.8"/><circle cx="413.2" cy="432.2" r="2.8"/><circle cx="468.2" cy="437.2" r="2.8"/><circle cx="423.4" cy="446.8" r="2.8"/><circle cx="431.1" cy="452.4" r="2.8"/><circle cx="457" cy="444.7" r="2.8"/><circle cx="463.9" cy="444.2" r="2.8"/><circle cx="465.5" cy="445.8" r="2.8"/><circle cx="470" cy="450.4" r="2.8"/><circle cx="457" cy="454.3" r="2.8"/><circle cx="454.3" cy="459.6" r="2.8"/><circle cx="463.2" cy="458.3" r="2.8"/><circle cx="461.6" cy="463.6" r="2.8"/><circle cx="436.6" cy="457.6" r="2.8"/><circle cx="436.6" cy="460.9" r="2.8"/><circle cx="436.6" cy="464.2" r="2.8"/><circle cx="395.1" cy="461.3" r="2.8"/><circle cx="412.9" cy="472.8" r="2.8"/><circle cx="423.4" cy="471.8" r="2.8"/><circle cx="445.4" cy="468.2" r="2.8"/><circle cx="451.1" cy="466.2" r="2.8"/><circle cx="436.6" cy="472.8" r="2.8"/><circle cx="431.3" cy="480" r="2.8"/><circle cx="436.6" cy="478.7" r="2.8"/><circle cx="440.5" cy="477.4" r="2.8"/><circle cx="441.8" cy="481.3" r="2.8"/><circle cx="436.6" cy="483.9" r="2.8"/><circle cx="436.6" cy="487.9" r="2.8"/><circle cx="448.4" cy="479.3" r="2.8"/><circle cx="455" cy="480.7" r="2.8"/><circle cx="458.9" cy="483.3" r="2.8"/><circle cx="458.9" cy="487.9" r="2.8"/><circle cx="461.6" cy="489.9" r="2.8"/><circle cx="465.5" cy="483.9" r="2.8"/><circle cx="457.6" cy="476.1" r="2.8"/><circle cx="461.6" cy="474.7" r="2.8"/><circle cx="466.8" cy="477.4" r="2.8"/><circle cx="470" cy="481.3" r="2.8"/><circle cx="455" cy="472.1" r="2.8"/><circle cx="423.4" cy="489.9" r="2.8"/><circle cx="412.9" cy="496.1" r="2.8"/><circle cx="448.8" cy="494.7" r="2.8"/><circle cx="451.7" cy="504.3" r="2.8"/><circle cx="468.8" cy="516.2" r="2.8"/><circle cx="473.9" cy="432.9" r="2.8"/><circle cx="468.3" cy="437.2" r="2.8"/><circle cx="465.7" cy="445.1" r="2.8"/><circle cx="507.8" cy="430" r="2.8"/><circle cx="504.2" cy="437.2" r="2.8"/><circle cx="514.7" cy="440.5" r="2.8"/><circle cx="496.2" cy="442.5" r="2.8"/><circle cx="526.8" cy="437.2" r="2.8"/><circle cx="523.6" cy="440.5" r="2.8"/><circle cx="529.5" cy="442.5" r="2.8"/><circle cx="533.4" cy="441.8" r="2.8"/><circle cx="538.7" cy="442.5" r="2.8"/><circle cx="528.2" cy="447.1" r="2.8"/><circle cx="526.8" cy="451.1" r="2.8"/><circle cx="525.5" cy="454.3" r="2.8"/><circle cx="522.9" cy="456.3" r="2.8"/><circle cx="505.8" cy="444.5" r="2.8"/><circle cx="507.1" cy="447.8" r="2.8"/><circle cx="484.5" cy="447.8" r="2.8"/><circle cx="486.1" cy="451.7" r="2.8"/><circle cx="488" cy="452.4" r="2.8"/><circle cx="485.4" cy="455.7" r="2.8"/><circle cx="470.9" cy="450.4" r="2.8"/><circle cx="474.2" cy="451.7" r="2.8"/><circle cx="473.6" cy="454.3" r="2.8"/><circle cx="495.9" cy="450.8" r="2.8"/><circle cx="510.1" cy="454.1" r="2.8"/><circle cx="495.3" cy="458.7" r="2.8"/><circle cx="503.6" cy="460.3" r="2.8"/><circle cx="513.9" cy="459.2" r="2.8"/><circle cx="487.6" cy="461.6" r="2.8"/><circle cx="542" cy="431.3" r="2.8"/><circle cx="550.5" cy="432.9" r="2.8"/><circle cx="534.1" cy="430" r="2.8"/><circle cx="553.4" cy="448.4" r="2.8"/><circle cx="550.3" cy="453" r="2.8"/><circle cx="531.4" cy="459.6" r="2.8"/><circle cx="543.9" cy="461.6" r="2.8"/><circle cx="549.2" cy="464.2" r="2.8"/><circle cx="545.3" cy="466.8" r="2.8"/><circle cx="555" cy="468.2" r="2.8"/><circle cx="532.8" cy="472.1" r="2.8"/><circle cx="541.3" cy="473.4" r="2.8"/><circle cx="538.7" cy="474.7" r="2.8"/><circle cx="548.6" cy="472.8" r="2.8"/><circle cx="540" cy="479.3" r="2.8"/><circle cx="551.2" cy="479.3" r="2.8"/><circle cx="533.4" cy="483.9" r="2.8"/><circle cx="542.4" cy="487" r="2.8"/><circle cx="529.5" cy="475.4" r="2.8"/><circle cx="526.8" cy="477.4" r="2.8"/><circle cx="521.6" cy="479.3" r="2.8"/><circle cx="525.5" cy="480.7" r="2.8"/><circle cx="521.6" cy="468.2" r="2.8"/><circle cx="520.3" cy="472.8" r="2.8"/><circle cx="515" cy="469.5" r="2.8"/><circle cx="515" cy="476.7" r="2.8"/><circle cx="511" cy="482.6" r="2.8"/><circle cx="523.8" cy="492.1" r="2.8"/><circle cx="519.3" cy="497.5" r="2.8"/><circle cx="507.1" cy="497.1" r="2.8"/><circle cx="507.1" cy="502.4" r="2.8"/><circle cx="497.2" cy="495.1" r="2.8"/><circle cx="491.3" cy="485.3" r="2.8"/><circle cx="495.3" cy="486.6" r="2.8"/><circle cx="498.6" cy="487.9" r="2.8"/><circle cx="487.4" cy="489.9" r="2.8"/><circle cx="490" cy="493.8" r="2.8"/><circle cx="490.7" cy="497.8" r="2.8"/><circle cx="472.6" cy="491.8" r="2.8"/><circle cx="550.3" cy="500.8" r="2.8"/><circle cx="555" cy="500.4" r="2.8"/><circle cx="529.5" cy="506.3" r="2.8"/><circle cx="535.4" cy="506.6" r="2.8"/><circle cx="546.8" cy="510" r="2.8"/><circle cx="504.2" cy="513.9" r="2.8"/><circle cx="465.7" cy="458.3" r="2.8"/><circle cx="550.7" cy="432.6" r="2.8"/><circle cx="566.4" cy="431.3" r="2.8"/><circle cx="585.3" cy="430.7" r="2.8"/><circle cx="624.3" cy="435.9" r="2.8"/><circle cx="562.9" cy="442.5" r="2.8"/><circle cx="563.2" cy="446.4" r="2.8"/><circle cx="569.7" cy="445.8" r="2.8"/><circle cx="573.7" cy="445.1" r="2.8"/><circle cx="577" cy="443.8" r="2.8"/><circle cx="586.2" cy="442.2" r="2.8"/><circle cx="597.6" cy="444.2" r="2.8"/><circle cx="619.7" cy="443.2" r="2.8"/><circle cx="554.6" cy="448.4" r="2.8"/><circle cx="550.7" cy="453" r="2.8"/><circle cx="560.3" cy="451.7" r="2.8"/><circle cx="610.5" cy="449.5" r="2.8"/><circle cx="598.7" cy="454.3" r="2.8"/><circle cx="579.6" cy="458.3" r="2.8"/><circle cx="588.2" cy="459.6" r="2.8"/><circle cx="609.9" cy="458.9" r="2.8"/><circle cx="640" cy="440.5" r="2.8"/><circle cx="550.7" cy="464.2" r="2.8"/><circle cx="561.2" cy="464.2" r="2.8"/><circle cx="555.3" cy="468.4" r="2.8"/><circle cx="562.5" cy="470.1" r="2.8"/><circle cx="567.1" cy="472.1" r="2.8"/><circle cx="570.4" cy="471.4" r="2.8"/><circle cx="580" cy="469.2" r="2.8"/><circle cx="595.4" cy="468.6" r="2.8"/><circle cx="634.2" cy="465.3" r="2.8"/><circle cx="561.2" cy="475.4" r="2.8"/><circle cx="551.3" cy="479.3" r="2.8"/><circle cx="555.9" cy="478" r="2.8"/><circle cx="558.6" cy="481.3" r="2.8"/><circle cx="562.5" cy="483.7" r="2.8"/><circle cx="569.5" cy="478" r="2.8"/><circle cx="577" cy="474.7" r="2.8"/><circle cx="580.3" cy="479" r="2.8"/><circle cx="624.3" cy="474.1" r="2.8"/><circle cx="615.8" cy="483" r="2.8"/><circle cx="589.5" cy="487.9" r="2.8"/><circle cx="590.8" cy="489.2" r="2.8"/><circle cx="598.9" cy="490.8" r="2.8"/><circle cx="551.3" cy="500.8" r="2.8"/><circle cx="556.6" cy="500.4" r="2.8"/><circle cx="611.4" cy="407.3" r="2.8"/><circle cx="598.3" cy="414.1" r="2.8"/><circle cx="610.4" cy="417.7" r="2.8"/><circle cx="629.5" cy="422.3" r="2.8"/><circle cx="671.1" cy="404.3" r="2.8"/><circle cx="624.2" cy="435.8" r="2.8"/><circle cx="655.5" cy="438.5" r="2.8"/><circle cx="641.7" cy="439" r="2.8"/><circle cx="641.8" cy="439.9" r="2.8"/><circle cx="646.7" cy="443.8" r="2.8"/><circle cx="655.6" cy="438.3" r="2.8"/><circle cx="620.1" cy="443.4" r="2.8"/><circle cx="611.2" cy="449.7" r="2.8"/><circle cx="609.6" cy="459.2" r="2.8"/><circle cx="634.5" cy="465.1" r="2.8"/><circle cx="643.3" cy="470.5" r="2.8"/><circle cx="615.5" cy="482.9" r="2.8"/><circle cx="574.3" cy="522.2" r="2.8"/><circle cx="481.2" cy="363.9" r="2.8"/><circle cx="543" cy="381.2" r="2.8"/><circle cx="534.5" cy="399.3" r="2.8"/><circle cx="524.9" cy="402.3" r="2.8"/><circle cx="504.5" cy="411.2" r="2.8"/><circle cx="503.2" cy="418.3" r="2.8"/><circle cx="512.8" cy="419.7" r="2.8"/><circle cx="525.1" cy="420.3" r="2.8"/><circle cx="494.6" cy="426.9" r="2.8"/><circle cx="507.8" cy="428.6" r="2.8"/><circle cx="534.1" cy="428.3" r="2.8"/><circle cx="541.7" cy="431" r="2.8"/><circle cx="550.5" cy="433.2" r="2.8"/><circle cx="526.8" cy="437.4" r="2.8"/><circle cx="514.3" cy="439" r="2.8"/><circle cx="562.1" cy="362.6" r="2.8"/><circle cx="565.8" cy="401.4" r="2.8"/><circle cx="578.6" cy="407.3" r="2.8"/><circle cx="588.8" cy="406.9" r="2.8"/><circle cx="585.1" cy="412.6" r="2.8"/><circle cx="598.3" cy="413.9" r="2.8"/><circle cx="611.4" cy="407.3" r="2.8"/><circle cx="562.5" cy="416.4" r="2.8"/><circle cx="571.6" cy="420.1" r="2.8"/><circle cx="583.4" cy="421.6" r="2.8"/><circle cx="629.2" cy="422.3" r="2.8"/><circle cx="565.8" cy="428.6" r="2.8"/><circle cx="567.4" cy="431.9" r="2.8"/><circle cx="585.1" cy="430.2" r="2.8"/><circle cx="624" cy="435.8" r="2.8"/><circle cx="463.2" cy="523.2" r="2.8"/><circle cx="459.3" cy="535.9" r="2.8"/><circle cx="457.2" cy="579.1" r="2.8"/><circle cx="527.5" cy="523.2" r="2.8"/><circle cx="515.4" cy="568.2" r="2.8"/><circle cx="534.5" cy="576.4" r="2.8"/><circle cx="547.2" cy="510.3" r="2.8"/>
<circle cx="381.3" cy="369.9" r="2.8"/><circle cx="381.3" cy="380" r="2.8"/><circle cx="381.3" cy="406.8" r="2.8"/><circle cx="381.3" cy="413.8" r="2.8"/><circle cx="381.3" cy="424.9" r="2.8"/><circle cx="381.3" cy="429.8" r="2.8"/><circle cx="381.3" cy="576.6" r="2.8"/><circle cx="381.3" cy="580.9" r="2.8"/><circle cx="381.3" cy="589.3" r="2.8"/><circle cx="381.3" cy="597.4" r="2.8"/><circle cx="381.3" cy="390.9" r="2.8"/><circle cx="381.3" cy="395.3" r="2.8"/><circle cx="381.3" cy="399.6" r="2.8"/><circle cx="381.3" cy="434.2" r="2.8"/><circle cx="381.3" cy="437.2" r="2.8"/><circle cx="381.3" cy="440.2" r="2.8"/><circle cx="381.3" cy="443.2" r="2.8"/><circle cx="381.3" cy="446.2" r="2.8"/><circle cx="381.3" cy="449.2" r="2.8"/><circle cx="381.3" cy="452.2" r="2.8"/><circle cx="381.3" cy="455.2" r="2.8"/><circle cx="381.3" cy="458.2" r="2.8"/><circle cx="381.3" cy="461.2" r="2.8"/><circle cx="381.3" cy="464.2" r="2.8"/><circle cx="381.3" cy="467.2" r="2.8"/><circle cx="381.3" cy="470.2" r="2.8"/><circle cx="381.3" cy="473.2" r="2.8"/><circle cx="381.3" cy="476.2" r="2.8"/><circle cx="381.3" cy="479.2" r="2.8"/><circle cx="381.3" cy="482.1" r="2.8"/><circle cx="381.3" cy="485.1" r="2.8"/><circle cx="381.3" cy="488.1" r="2.8"/><circle cx="381.3" cy="491.1" r="2.8"/><circle cx="381.3" cy="494.1" r="2.8"/><circle cx="381.3" cy="497.1" r="2.8"/><circle cx="381.3" cy="500.1" r="2.8"/><circle cx="381.3" cy="503.1" r="2.8"/><circle cx="381.3" cy="506.1" r="2.8"/><circle cx="381.3" cy="509.1" r="2.8"/><circle cx="381.3" cy="512.1" r="2.8"/><circle cx="381.3" cy="515.6" r="2.8"/><circle cx="381.3" cy="520.8" r="2.8"/><circle cx="381.3" cy="523" r="2.8"/><circle cx="381.3" cy="527.2" r="2.8"/><circle cx="381.3" cy="531.3" r="2.8"/><circle cx="381.3" cy="535.5" r="2.8"/><circle cx="381.3" cy="539.6" r="2.8"/><circle cx="381.3" cy="543.8" r="2.8"/><circle cx="381.3" cy="547.9" r="2.8"/><circle cx="381.3" cy="551.3" r="2.8"/><circle cx="381.3" cy="556.2" r="2.8"/><circle cx="381.3" cy="561.1" r="2.8"/><circle cx="381.3" cy="633.4" r="2.8"/><circle cx="381.3" cy="635.1" r="2.8"/>
<circle cx="506.5" cy="466.7" r="2.8"/><circle cx="481" cy="469.7" r="2.8"/><circle cx="484.9" cy="470.4" r="2.8"/><circle cx="487.2" cy="470.1" r="2.8"/><circle cx="493" cy="469.4" r="2.8"/><circle cx="495.3" cy="470" r="2.8"/><circle cx="499.5" cy="468.2" r="2.8"/><circle cx="505.2" cy="468.2" r="2.8"/><circle cx="507.8" cy="468.4" r="2.8"/><circle cx="454.9" cy="473.9" r="2.8"/><circle cx="465.3" cy="472.5" r="2.8"/><circle cx="469.2" cy="471.6" r="2.8"/><circle cx="473.6" cy="473.8" r="2.8"/><circle cx="477.7" cy="472.6" r="2.8"/><circle cx="482.3" cy="472.9" r="2.8"/><circle cx="486.3" cy="473.8" r="2.8"/><circle cx="489.8" cy="473.2" r="2.8"/><circle cx="493.5" cy="473.9" r="2.8"/><circle cx="498.1" cy="471.5" r="2.8"/><circle cx="502.2" cy="471.6" r="2.8"/><circle cx="506.3" cy="471.7" r="2.8"/><circle cx="509.9" cy="473.1" r="2.8"/><circle cx="457.1" cy="475.6" r="2.8"/><circle cx="460.2" cy="475.8" r="2.8"/><circle cx="463.6" cy="475.9" r="2.8"/><circle cx="467.5" cy="475.9" r="2.8"/><circle cx="470.9" cy="476.4" r="2.8"/><circle cx="475.5" cy="475.5" r="2.8"/><circle cx="479.4" cy="475.4" r="2.8"/><circle cx="484.5" cy="475.2" r="2.8"/><circle cx="487.6" cy="477" r="2.8"/><circle cx="492.9" cy="475.4" r="2.8"/><circle cx="496.4" cy="477.1" r="2.8"/><circle cx="499.3" cy="475.3" r="2.8"/><circle cx="503.3" cy="476.9" r="2.8"/><circle cx="507.2" cy="475.7" r="2.8"/><circle cx="512.3" cy="476.9" r="2.8"/><circle cx="515.1" cy="475.7" r="2.8"/><circle cx="453.8" cy="479.5" r="2.8"/><circle cx="463.1" cy="480.6" r="2.8"/><circle cx="465.8" cy="480.8" r="2.8"/><circle cx="469.3" cy="480.3" r="2.8"/><circle cx="474.4" cy="479.7" r="2.8"/><circle cx="482.2" cy="479.2" r="2.8"/><circle cx="484.9" cy="480.6" r="2.8"/><circle cx="491" cy="480.6" r="2.8"/><circle cx="494.2" cy="478.5" r="2.8"/><circle cx="497.2" cy="479.2" r="2.8"/><circle cx="502.1" cy="479.5" r="2.8"/><circle cx="506.3" cy="479.3" r="2.8"/><circle cx="510.9" cy="479.6" r="2.8"/><circle cx="513.6" cy="478.9" r="2.8"/>
</g>
<path d="M395 469.7 L405 469.1 L415 468.4 L425 467.7 L435 466.9 L445 466.2 L455 465.4 L465 464.5 L475 463.7 L485 462.7 L495 461.7 L505 460.6 L515 459.4 L525 458 L535 456.7 L545 455.2 L555 453.7 L565 452.1 L575 450.4 L585 448.8 L595 447.1 L605 445.4 L615 443.7 L625 441.9 L635 440.2 L645 438.4 L655 436.6 L665 434.9 L671 433.8 L671 455.2 L665 455.6 L655 456.2 L645 456.9 L635 457.5 L625 458.2 L615 458.9 L605 459.6 L595 460.3 L585 461 L575 461.8 L565 462.6 L555 463.4 L545 464.3 L535 465.2 L525 466.3 L515 467.4 L505 468.6 L495 469.9 L485 471.3 L475 472.7 L465 474.3 L455 475.9 L445 477.5 L435 479.2 L425 480.8 L415 482.5 L405 484.3 L395 486 Z" fill="#999999" fill-opacity="0.4"/>
<path d="M394.8 477.9 L671 444.5" fill="none" stroke="#1F1F1F" stroke-width="2.6"/>
</g>
<rect x="381.6" y="349.4" width="302.6" height="299.4" fill="none" stroke="#333333" stroke-width="1.2"/>
<line x1="378.2" y1="400.3" x2="381.6" y2="400.3" stroke="#333333" stroke-width="1.4"/><line x1="378.2" y1="610.9" x2="381.6" y2="610.9" stroke="#333333" stroke-width="1.4"/><line x1="419.4" y1="648.8" x2="419.4" y2="652.2" stroke="#333333" stroke-width="1.4"/><text x="419.4" y="662.6"  font-size="10.8" fill="#575757" text-anchor="middle">&#8722;5</text><line x1="478.8" y1="648.8" x2="478.8" y2="652.2" stroke="#333333" stroke-width="1.4"/><text x="478.8" y="662.6"  font-size="10.8" fill="#575757" text-anchor="middle">&#8722;4</text><line x1="538.2" y1="648.8" x2="538.2" y2="652.2" stroke="#333333" stroke-width="1.4"/><text x="538.2" y="662.6"  font-size="10.8" fill="#575757" text-anchor="middle">&#8722;3</text><line x1="597.6" y1="648.8" x2="597.6" y2="652.2" stroke="#333333" stroke-width="1.4"/><text x="597.6" y="662.6"  font-size="10.8" fill="#575757" text-anchor="middle">&#8722;2</text><line x1="657" y1="648.8" x2="657" y2="652.2" stroke="#333333" stroke-width="1.4"/><text x="657" y="662.6"  font-size="10.8" fill="#575757" text-anchor="middle">&#8722;1</text>
<text transform="translate(374 400.3) rotate(-90)"  font-size="10.8" fill="#575757" text-anchor="middle">Over&#8722;represented</text>
<text transform="translate(374 610.7) rotate(-90)"  font-size="10.8" fill="#575757" text-anchor="middle">Under&#8722;represented</text>
<text x="535.3" y="677.8"  font-size="13.3" fill="#000" text-anchor="middle">Log<tspan font-size="9.6" dy="2.2">10</tspan><tspan dy="-2.2"> Abundance in water samples</tspan></text>
<text transform="translate(359.4 499) rotate(-90)"  font-size="13.3" fill="#000" text-anchor="middle">Departures from neutrality on polyps</text>
<text x="348.6" y="360.3"  font-size="17.2" fill="#000" stroke="#000" stroke-width="0.5">C</text>
</svg></body></html>
